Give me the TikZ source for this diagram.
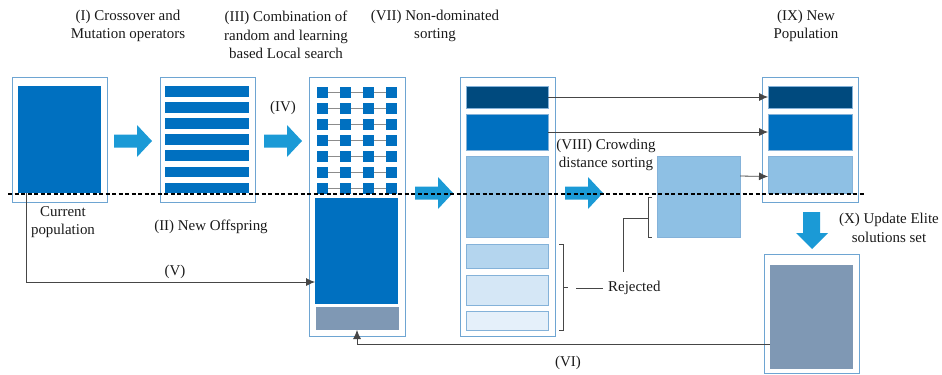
\documentclass[tikz,border=0pt]{standalone}
\usepackage{fontspec}
\setmainfont{Liberation Serif}
\usetikzlibrary{arrows.meta}
\definecolor{frameblue}{RGB}{110,165,210}
\definecolor{mainblue}{RGB}{0,112,192}
\definecolor{navyblue}{RGB}{0,74,126}
\definecolor{lightblue}{RGB}{142,192,228}
\definecolor{lbtwo}{RGB}{180,213,238}
\definecolor{lbthree}{RGB}{213,231,246}
\definecolor{lbfour}{RGB}{229,240,250}
\definecolor{grayblue}{RGB}{127,152,180}
\definecolor{arrowblue}{RGB}{27,154,214}
\definecolor{linegray}{RGB}{70,70,70}
\newcommand\rectnode[6]{\node[blk,#1,minimum width=#4bp,minimum height=#5bp] (#6) at (#2,#3) {};}
\newcommand\blockarrow[2]{\fill[arrowblue] (#1,#2) ++(0,-6.5) -- ++(23,0) -- ++(0,-9.5) -- ++(15,16) -- ++(-15,16) -- ++(0,-9.5) -- ++(-23,0) -- cycle;}
\begin{document}
\begin{tikzpicture}[x=1bp,y=-1bp,
  blk/.style={inner sep=0pt, outer sep=0pt, anchor=north west},
  framebox/.style={draw=frameblue, line width=0.8bp, fill=white},
  inner/.style={draw=frameblue!85, line width=0.5bp},
  conn/.style={draw=linegray, line width=0.8bp, -{Latex[length=9bp,width=8bp]}},
  plain/.style={draw=linegray, line width=0.8bp},
  lbl/.style={font=\fontsize{15}{18.5}\selectfont, align=center, inner sep=0pt, text=black!90}]
\useasboundingbox (0,0) rectangle (942,374);
% frames
\rectnode{framebox}{12}{77}{95}{125}{f1}
\rectnode{framebox}{160}{77}{95}{125}{f2}
\rectnode{framebox}{309}{77}{96}{259}{f3}
\rectnode{framebox}{460}{77}{95}{259}{f4}
\rectnode{framebox}{762}{77}{96}{125}{f5}
\rectnode{framebox}{764}{254}{95}{119}{f6}
% box 1
\rectnode{fill=mainblue}{18}{86}{83}{107}{cp}
% box 2 bars
\foreach \i in {0,...,6} \fill[mainblue] (165,86+16.1*\i) rectangle ++(84,10.7);
% box 3 grid
\foreach \r in {0,...,6} {
  \draw[black!45, line width=0.8bp] (322,92+16*\r) -- (391,92+16*\r);
  \foreach \c in {0,...,3} \fill[mainblue] (316.7+23.1*\c,86.5+16*\r) rectangle ++(11,11);
}
\rectnode{fill=mainblue}{315}{198}{83}{106}{big3}
\rectnode{fill=grayblue}{316}{307}{83}{23}{gray3}
% box 4
\rectnode{inner,fill=navyblue}{466}{86}{82}{22}{nd4}
\rectnode{inner,fill=mainblue}{466}{114}{82}{36}{md4}
\rectnode{inner,fill=lightblue}{466}{156}{82}{81}{lt4}
\rectnode{inner,fill=lbtwo}{466}{244}{82}{24}{r1}
\rectnode{inner,fill=lbthree}{466}{275}{82}{30}{r2}
\rectnode{inner,fill=lbfour}{466}{311}{82}{19}{r3}
% crowding box
\rectnode{inner,fill=lightblue}{657}{156}{83}{81}{crowd}
% box 5
\rectnode{inner,fill=navyblue}{768}{86}{84}{22}{nd5}
\rectnode{inner,fill=mainblue}{768}{114}{84}{36}{md5}
\rectnode{inner,fill=lightblue}{768}{156}{84}{37}{lt5}
% box 6
\rectnode{fill=grayblue}{770}{265}{83}{104}{elite}
% block arrows
\blockarrow{114}{141}
\blockarrow{264}{141}
\blockarrow{415}{193}
\blockarrow{565}{193}
\fill[arrowblue] (803,212) -- (820,212) -- (820,233) -- (828,233) -- (812,249) -- (796,233) -- (803,233) -- cycle;
% connectors
\draw[conn] ([xshift=8bp]cp.south west) |- ([yshift=22bp]big3.south west);
\draw[conn] ([yshift=25bp]elite.south west) -| ([xshift=41bp]gray3.south west);
\draw[conn] (nd4.east) -- (nd5.west);
\draw[conn] (md4.east) -- (md5.west);
\draw[conn] ([yshift=-20bp]crowd.north east) -- ([yshift=-20.5bp]lt5.north west);
% brackets
\draw[plain] (559,244) -- (563,244) -- (563,330) -- (559,330);
\draw[plain] (563,287) -- (568,287);
\draw[plain] (652,197) -- (648,197) -- (648,237) -- (652,237);
\node[lbl, anchor=west] (rej) at (608,288) {Rejected};
\coordinate (brA) at (576,288);
\draw[plain] (brA) -- ([xshift=-5bp]rej.west);
\coordinate (brB) at (648,218);
\draw[plain] (brB) -- (623,218) -- (623,272);
% dashed line
\draw[black, line width=1.1bp, dash pattern=on 4bp off 2.5bp] (8,194) -- (866,194);
% labels
\node[lbl] (t1) at (128,26) {(I) Crossover and\\Mutation operators};
\node[lbl] (t3) at (286,35) {(III) Combination of\\random and learning\\based Local search};
\node[lbl] (t7) at (435,26) {(VII) Non-dominated\\sorting};
\node[lbl] (t9) at (806,26) {(IX) New\\Population};
\node[lbl] (tcp) at (63,222) {Current\\population};
\node[lbl] (t2) at (211,227) {(II) New Offspring};
\node[lbl] (t4) at (283,108) {(IV)};
\node[lbl] (t5) at (175,272) {(V)};
\node[lbl] (t6) at (568,363) {(VI)};
\node[lbl] (t8) at (606,155) {(VIII) Crowding\\distance sorting};
\node[lbl] (t10) at (889,228) {(X) Update Elite\\solutions set};
\end{tikzpicture}
\end{document}
